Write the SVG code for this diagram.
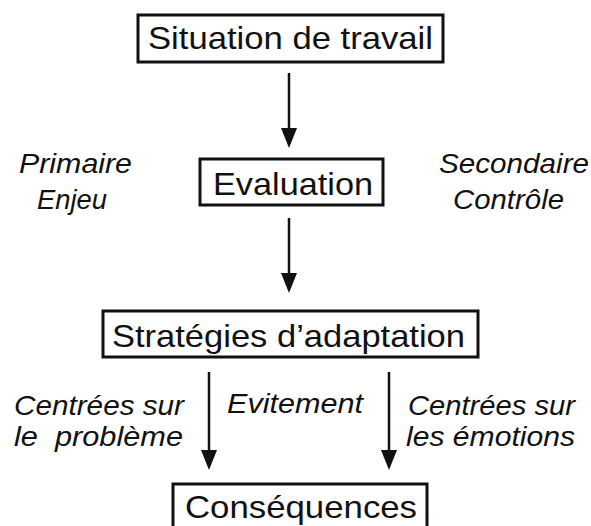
<svg xmlns="http://www.w3.org/2000/svg" width="591" height="526" viewBox="0 0 591 526">
<defs>
<style>
.box{fill:#fff;stroke:#111;stroke-width:3}
.t{font-family:"Liberation Sans",Arial,sans-serif;font-size:32px;fill:#111}
.l{font-family:"Liberation Sans",Arial,sans-serif;font-size:28px;font-style:italic;fill:#111;white-space:pre}
.ln{stroke:#111;stroke-width:2.5;fill:none}
.hd{fill:#111}
</style>
</defs>
<rect width="591" height="526" fill="#fff"/>
<g id="connectors">
<line class="ln" x1="289" y1="73" x2="289" y2="132"/><polygon class="hd" points="281,128 297,128 289,148"/>
<line class="ln" x1="289" y1="218" x2="289" y2="277"/><polygon class="hd" points="281,273 297,273 289,293"/>
<line class="ln" x1="209" y1="372" x2="209" y2="454"/><polygon class="hd" points="201,450 217,450 209,470"/>
<line class="ln" x1="389" y1="372" x2="389" y2="454"/><polygon class="hd" points="381,450 397,450 389,470"/>
</g>
<g id="situation"><rect class="box" x="138" y="15" width="305" height="47"/><text class="t" x="148" y="49" textLength="285" lengthAdjust="spacingAndGlyphs">Situation de travail</text></g>
<g id="evaluation"><rect class="box" x="200" y="159" width="183" height="46"/><text class="t" x="213" y="195" textLength="160" lengthAdjust="spacingAndGlyphs">Evaluation</text></g>
<g id="strategies"><rect class="box" x="103" y="311" width="375" height="46"/><text class="t" x="112" y="347" textLength="353" lengthAdjust="spacingAndGlyphs">Stratégies d’adaptation</text></g>
<g id="consequences"><rect class="box" x="173" y="484" width="254" height="50"/><text class="t" x="185" y="518" textLength="232" lengthAdjust="spacingAndGlyphs">Conséquences</text></g>
<g id="labels">
<text class="l" x="19" y="173" textLength="113" lengthAdjust="spacingAndGlyphs">Primaire</text>
<text class="l" x="37" y="209" textLength="70" lengthAdjust="spacingAndGlyphs">Enjeu</text>
<text class="l" x="439" y="173" textLength="150" lengthAdjust="spacingAndGlyphs">Secondaire</text>
<text class="l" x="453" y="209" textLength="111" lengthAdjust="spacingAndGlyphs">Contrôle</text>
<text class="l" x="14" y="415" textLength="170" lengthAdjust="spacingAndGlyphs">Centrées sur</text>
<text class="l" x="14" y="446" textLength="169" lengthAdjust="spacingAndGlyphs">le  problème</text>
<text class="l" x="227" y="413" textLength="136" lengthAdjust="spacingAndGlyphs">Evitement</text>
<text class="l" x="408" y="415" textLength="167" lengthAdjust="spacingAndGlyphs">Centrées sur</text>
<text class="l" x="406" y="446" textLength="169" lengthAdjust="spacingAndGlyphs">les émotions</text>
</g>
</svg>
